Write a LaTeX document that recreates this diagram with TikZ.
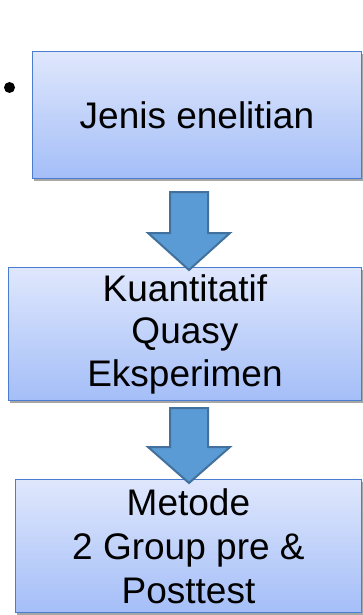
\documentclass[tikz,border=0pt]{standalone}
\usepackage{fontspec}
\setmainfont{Liberation Sans}
\usetikzlibrary{shadows}
\definecolor{boxtop}{HTML}{DFE7FC}
\definecolor{boxbot}{HTML}{A4BEF8}
\definecolor{boxline}{HTML}{4A7DD0}
\definecolor{arrowfill}{HTML}{5B9BD5}
\definecolor{arrowline}{HTML}{41719C}
\tikzset{
  flowbox/.style={draw=boxline, line width=0.9pt, top color=boxtop, bottom color=boxbot,
    anchor=north west, inner sep=0pt, align=center,
    drop shadow={shadow xshift=2pt, shadow yshift=-2.5pt, fill=black, opacity=0.35}},
  blockarrow/.style={draw=arrowline, fill=arrowfill, line width=2pt, line join=miter},
}
\begin{document}
\begin{tikzpicture}[x=1pt,y=-1pt]
\useasboundingbox (0,0) rectangle (362,615);
\fill (9.5,87.5) circle (5.5);
\node[flowbox, minimum width=329pt, minimum height=127pt, font=\fontsize{37}{42}\selectfont] (b1) at (32,51) {Jenis enelitian};
\node[flowbox, minimum width=353pt, minimum height=133pt, font=\fontsize{37}{42.5}\selectfont] (b2) at (8,267) {Kuantitatif\\Quasy\\Eksperimen};
\node[flowbox, minimum width=346pt, minimum height=133pt, font=\fontsize{37}{44}\selectfont] (b3) at (15,479) {Metode\\2 Group pre \&\\Posttest};
\draw[blockarrow] (170,192) -- (208,192) -- (208,233) -- (230,233) -- (189,270) -- (148,233) -- (170,233) -- cycle;
\draw[blockarrow] (170,408) -- (208,408) -- (208,447) -- (230,447) -- (189,483) -- (148,447) -- (170,447) -- cycle;
\end{tikzpicture}
\end{document}
